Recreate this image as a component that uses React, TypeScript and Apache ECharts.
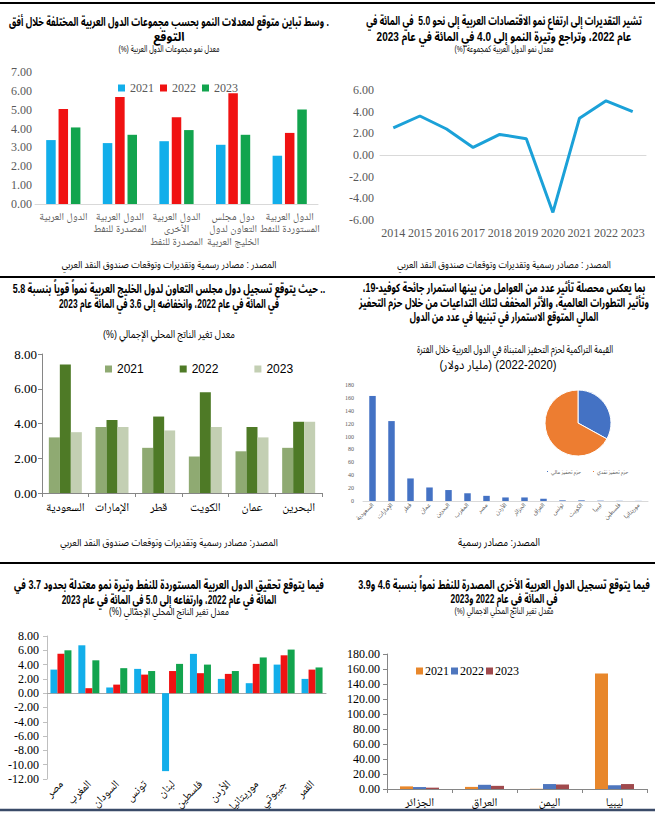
import React, { useEffect, useRef } from 'react';
import * as echarts from 'echarts';

// ---------- data ----------
const groupYears = ['2021', '2022', '2023'];

const groupCats = [
  'الدول العربية',
  'الدول العربية\nالمصدرة للنفط',
  'الدول العربية\nالأخرى\nالمصدرة للنفط',
  'دول مجلس\nالتعاون لدول\nالخليج العربية',
  'الدول العربية\nالمستوردة للنفط',
];
const group2021 = [3.39, 3.23, 3.33, 3.14, 2.56];
const group2022 = [5.04, 5.68, 4.6, 5.87, 3.77];
const group2023 = [4.06, 3.67, 3.92, 3.67, 5.01];

const arabYears = ['2014', '2015', '2016', '2017', '2018', '2019', '2020', '2021', '2022', '2023'];
const arabGrowth = [2.5, 3.6, 2.4, 0.7, 1.9, 1.5, -5.3, 3.4, 5.0, 4.0];

const gccCats = ['السعودية', 'الإمارات', 'قطر', 'الكويت', 'عمان', 'البحرين'];
const gcc2021 = [3.2, 3.8, 2.6, 2.1, 2.4, 2.6];
const gcc2022 = [7.4, 4.2, 4.4, 5.8, 3.8, 4.1];
const gcc2023 = [3.5, 3.8, 3.6, 3.8, 3.2, 4.1];

const stimCats = ['السعودية', 'الإمارات', 'قطر', 'عمان', 'البحرين', 'المغرب', 'مصر', 'الأردن', 'الجزائر', 'العراق', 'تونس', 'الكويت', 'ليبيا', 'فلسطين', 'موريتانيا'];
const stimValues = [163, 124, 35, 21, 17, 12, 8, 5.5, 5.5, 3.5, 1, 1, 0.5, 0.3, 0.2];
const stimTypes = ['حزم تحفيز مالي', 'حزم تحفيز نقدي'];
const stimShares = [33, 67];

const impCats = ['مصر', 'المغرب', 'السودان', 'تونس', 'لبنان', 'فلسطين', 'الأردن', 'موريتانيا', 'جيبوتي', 'القمر'];
const imp2021 = [3.3, 6.7, 0.8, 3.4, -10.9, 5.5, 2.0, 1.4, 4.0, 2.0];
const imp2022 = [5.5, 0.7, 1.2, 2.6, 3.1, 2.8, 2.7, 4.1, 5.3, 3.3];
const imp2023 = [6.0, 4.6, 3.5, 3.1, 4.1, 4.0, 3.1, 5.0, 6.1, 3.6];

const expCats = ['الجزائر', 'العراق', 'اليمن', 'ليبيا'];
const exp2021 = [3.5, 2.8, 0.3, 154];
const exp2022 = [2.6, 5.6, 6.6, 5.0];
const exp2023 = [1.8, 4.2, 6.0, 6.6];

// ---------- styles ----------
const serif = "'Liberation Serif', 'Noto Naskh Arabic', serif";
const sans = "Arial, 'Liberation Sans', 'Noto Sans Arabic', sans-serif";
const grey = '#595959';
const tripleA = ['#12AEEA', '#F01212', '#12A44E'];
const gccColors = ['#8FAA72', '#4E7A26', '#C3CFB3'];
const expColors = ['#E8872B', '#4E76BE', '#A04A4D'];

const fix2 = (v: number) => v.toFixed(2);
const L = 169;
const R = 504;
const RLM = '\u200F';

// [text, centerX, centerY, fontSize, bold, targetWidth]
const titleLines: [string, number, number, number, boolean, number][] = [
  ['. وسط تباين متوقع لمعدلات النمو بحسب مجموعات الدول العربية المختلفة خلال أفق', L, 21, 12, true, 320],
  ['التوقع', L, 37, 12, true, 0],
  ['معدل نمو مجموعات الدول العربية (%)', L, 49, 9.5, false, 95],
  ['المصدر : مصادر رسمية وتقديرات وتوقعات صندوق النقد العربي', L, 265, 10, false, 215],
  ['تشير التقديرات إلى ارتفاع نمو الاقتصادات العربية إلى نحو 5.0  في المائة في', R, 21, 12, true, 276],
  ['عام 2022، وتراجع وتيرة النمو إلى 4.0 في المائة في عام 2023', R, 37, 12, true, 255],
  ['معدل نمو الدول العربية كمجموعة (%)', R, 49, 9.5, false, 88],
  ['المصدر : مصادر رسمية وتقديرات وتوقعات صندوق النقد العربي', R, 265, 10, false, 214],
  ['.. حيث يتوقع تسجيل دول مجلس التعاون لدول الخليج العربية نمواً قوياً بنسبة 5.8', L, 288, 12, true, 313],
  ['في المائة في عام 2022، وانخفاضه إلى 3.6 في المائة عام 2023', L, 304, 12, true, 216],
  ['معدل تغير الناتج المحلي الإجمالي (%)', L, 334, 11, false, 132],
  ['المصدر: مصادر رسمية وتقديرات وتوقعات صندوق النقد العربي', L, 542, 10, false, 218],
  ['بما يعكس محصلة تأثير عدد من العوامل من بينها استمرار جائحة كوفيد-19،', R, 287, 12, true, 283],
  ['وتأثير التطورات العالمية، والأثر المخفف لتلك التداعيات من خلال حزم التحفيز', R, 302, 12, true, 290],
  ['المالي المتوقع الاستمرار في تبنيها في عدد من الدول', R, 317, 12, true, 173],
  ['القيمة التراكمية لحزم التحفيز المتبناة في الدول العربية خلال الفترة', 515, 349, 11, false, 186],
  ['(2022-2020) (مليار دولار)', 498, 364, 12, false, 117],
  ['المصدر: مصادر رسمية', 499, 542, 11, false, 82],
  ['فيما يتوقع تحقيق الدول العربية المستوردة للنفط وتيرة نمو معتدلة بحدود 3.7 في', L, 584, 12, true, 310],
  ['المائة في عام 2022، وارتفاعه إلى 5.0 في المائة في عام 2023', L, 600, 12, true, 213],
  ['معدل تغير الناتج المحلي الإجمالي (%)', L, 612, 10, false, 120],
  ['فيما يتوقع تسجيل الدول العربية الأخرى المصدرة للنفط نمواً بنسبة 4.6 و3.9', R, 584, 12, true, 292],
  ['في المائة في عام 2022 و2023', R, 599, 12, true, 100],
  ['معدل تغير الناتج المحلي الاجمالي (%)', R, 611, 9.5, false, 82],
];

function hline(y: number, w: number, color = '#000') {
  return { type: 'line', silent: true, shape: { x1: 0, y1: y, x2: 655, y2: y }, style: { stroke: color, lineWidth: w } };
}

function buildGraphics() {
  const ctx = document.createElement('canvas').getContext('2d') as CanvasRenderingContext2D;
  const out: any[] = [hline(3, 2), hline(277, 2), hline(563, 2), hline(810, 2.5, '#3A4A68')];
  titleLines.forEach(([raw, x, y, size, bold, target]) => {
    const text = RLM + raw + RLM;
    let s = 1;
    if (target > 0) {
      ctx.font = `${bold ? 'bold ' : ''}${size}px ${sans}`;
      const w = ctx.measureText(text).width;
      if (w > 0) s = Math.max(0.7, Math.min(1.15, target / w));
    }
    out.push({
      type: 'text',
      x,
      y,
      scaleX: s,
      silent: true,
      style: {
        text,
        fill: '#000',
        fontSize: size,
        fontWeight: bold ? 'bold' : 'normal',
        fontFamily: sans,
        align: 'center',
        verticalAlign: 'middle',
        textAlign: 'center',
        textVerticalAlign: 'middle',
      },
    });
  });
  return out;
}

const grids = [
  { left: 35, top: 72, width: 283, height: 132 },
  { left: 380, top: 90, width: 266, height: 130 },
  { left: 42, top: 354, width: 280, height: 139 },
  { left: 363, top: 385, width: 285, height: 116 },
  { left: 47, top: 636, width: 279, height: 167 },
  { left: 387, top: 654, width: 260, height: 135 },
];

const xAxes = [
  {
    type: 'category', gridIndex: 0, data: groupCats,
    axisLine: { lineStyle: { color: '#D9D9D9' } }, axisTick: { show: false },
    axisLabel: { interval: 0, color: grey, fontSize: 10.5, lineHeight: 12.5, fontFamily: serif, margin: 6 },
  },
  {
    type: 'category', gridIndex: 1, data: arabYears,
    axisLine: { onZero: true, lineStyle: { color: '#D9D9D9' } }, axisTick: { show: false },
    axisLabel: { interval: 0, color: grey, fontSize: 12, fontFamily: serif, margin: 7 },
  },
  {
    type: 'category', gridIndex: 2, data: gccCats,
    axisLine: { lineStyle: { color: '#868686' } }, axisTick: { show: true, length: 4, lineStyle: { color: '#868686' } },
    axisLabel: { interval: 0, color: '#000', fontSize: 12, fontFamily: serif, margin: 8 },
  },
  {
    type: 'category', gridIndex: 3, data: stimCats,
    axisLine: { lineStyle: { color: '#D9D9D9' } }, axisTick: { show: false },
    axisLabel: { interval: 0, rotate: 45, color: grey, fontSize: 6, fontFamily: sans, margin: 3 },
  },
  {
    type: 'category', gridIndex: 4, data: impCats,
    axisLine: { onZero: true, lineStyle: { color: '#A6A6A6' } }, axisTick: { show: false },
    axisLabel: { interval: 0, rotate: 45, color: '#000', fontSize: 11.5, fontFamily: serif, margin: 3 },
  },
  {
    type: 'category', gridIndex: 5, data: expCats,
    axisLine: { lineStyle: { color: '#868686' } }, axisTick: { show: true, length: 4, lineStyle: { color: '#868686' } },
    axisLabel: { interval: 0, color: '#000', fontSize: 12, fontFamily: serif, margin: 7 },
  },
];

const yAxes = [
  {
    type: 'value', gridIndex: 0, min: 0, max: 7, interval: 1,
    axisLine: { show: false }, axisTick: { show: false }, splitLine: { show: false },
    axisLabel: { formatter: fix2, color: grey, fontSize: 12, fontFamily: serif, margin: 3 },
  },
  {
    type: 'value', gridIndex: 1, min: -6, max: 6, interval: 2,
    axisLine: { show: false }, axisTick: { show: false }, splitLine: { show: false },
    axisLabel: { formatter: fix2, color: grey, fontSize: 12, fontFamily: serif, margin: 6 },
  },
  {
    type: 'value', gridIndex: 2, min: 0, max: 8, interval: 2,
    axisLine: { show: true, lineStyle: { color: '#868686' } }, axisTick: { show: true, length: 4, lineStyle: { color: '#868686' } },
    splitLine: { show: false },
    axisLabel: { formatter: fix2, color: '#000', fontSize: 13, fontFamily: serif, margin: 5 },
  },
  {
    type: 'value', gridIndex: 3, min: 0, max: 180, interval: 20,
    axisLine: { show: false }, axisTick: { show: false }, splitLine: { show: false },
    axisLabel: { color: grey, fontSize: 6, fontFamily: serif, margin: 9 },
  },
  {
    type: 'value', gridIndex: 4, min: -12, max: 8, interval: 2,
    axisLine: { show: true, lineStyle: { color: '#BFBFBF' } }, axisTick: { show: true, length: 4, lineStyle: { color: '#BFBFBF' } },
    splitLine: { show: false },
    axisLabel: { formatter: fix2, color: '#000', fontSize: 12, fontFamily: serif, margin: 8 },
  },
  {
    type: 'value', gridIndex: 5, min: 0, max: 180, interval: 20,
    axisLine: { show: true, lineStyle: { color: '#868686' } }, axisTick: { show: true, length: 4, lineStyle: { color: '#868686' } },
    splitLine: { show: false },
    axisLabel: { formatter: fix2, color: '#000', fontSize: 12, fontFamily: serif, margin: 7 },
  },
];

function bars(prefix: string, idx: number, sets: number[][], colors: string[], barWidth: number, barGap: string) {
  return sets.map((d, i) => ({
    type: 'bar',
    name: prefix + groupYears[i],
    xAxisIndex: idx,
    yAxisIndex: idx,
    data: d,
    barWidth,
    barGap,
    itemStyle: { color: colors[i] },
  }));
}

const strip = (n: string) => n.slice(1);

const series: any[] = [
  ...bars('a', 0, [group2021, group2022, group2023], tripleA, 9.5, '30%'),
  {
    type: 'line', name: 'arab', xAxisIndex: 1, yAxisIndex: 1, data: arabGrowth,
    symbol: 'none', lineStyle: { color: '#1BA1D8', width: 3 }, itemStyle: { color: '#1BA1D8' },
  },
  ...bars('c', 2, [gcc2021, gcc2022, gcc2023], gccColors, 11, '0%'),
  {
    type: 'bar', name: 'stim', xAxisIndex: 3, yAxisIndex: 3, data: stimValues,
    barWidth: 6.5, itemStyle: { color: '#4472C4' },
  },
  {
    type: 'pie', name: 'stimPie', center: [578, 423], radius: 33, startAngle: 90,
    label: { show: false }, labelLine: { show: false },
    itemStyle: { borderColor: '#fff', borderWidth: 1 },
    data: stimTypes.map((n, i) => ({ name: n, value: stimShares[i], itemStyle: { color: i === 0 ? '#4472C4' : '#ED7D31' } })),
  },
  ...bars('e', 4, [imp2021, imp2022, imp2023], tripleA, 7, '0%'),
  ...bars('f', 5, [exp2021, exp2022, exp2023], expColors, 13, '0%'),
];

const legends = [
  {
    data: groupYears.map((y) => 'a' + y), formatter: strip, selectedMode: false,
    left: 113, top: 77, itemWidth: 7, itemHeight: 7, itemGap: 6, icon: 'rect',
    textStyle: { color: grey, fontSize: 12, fontFamily: serif },
  },
  {
    data: groupYears.map((y) => 'c' + y), formatter: strip, selectedMode: false,
    left: 100, top: 358, itemWidth: 7, itemHeight: 7, itemGap: 36, icon: 'rect',
    textStyle: { color: '#000', fontSize: 12, fontFamily: sans },
  },
  {
    data: stimTypes, selectedMode: false,
    left: 540, top: 464, itemWidth: 3, itemHeight: 3, itemGap: 10, icon: 'rect',
    textStyle: { color: grey, fontSize: 5, fontFamily: sans, padding: [0, 0, 0, -3] },
  },
  {
    data: groupYears.map((y) => 'e' + y), formatter: strip, selectedMode: false,
    left: 108, top: 811, itemWidth: 7, itemHeight: 7, itemGap: 38, icon: 'rect',
    textStyle: { color: '#000', fontSize: 12, fontFamily: serif },
  },
  {
    data: groupYears.map((y) => 'f' + y), formatter: strip, selectedMode: false,
    left: 411, top: 660, itemWidth: 7, itemHeight: 7, itemGap: 2, icon: 'rect',
    textStyle: { color: '#000', fontSize: 12, fontFamily: serif, padding: [0, 0, 0, -3] },
  },
];

export default function App() {
  const ref = useRef<HTMLDivElement>(null);
  useEffect(() => {
    const chart = echarts.init(ref.current as HTMLDivElement, null, { renderer: 'svg' });
    const option: any = {
      animation: false,
      backgroundColor: '#fff',
      textStyle: { fontFamily: sans },
      grid: grids,
      xAxis: xAxes,
      yAxis: yAxes,
      legend: legends,
      series,
      graphic: buildGraphics(),
    };
    chart.setOption(option);
    return () => chart.dispose();
  }, []);
  return (
    <div
      ref={ref}
      style={{ position: 'absolute', left: 0, top: 0, width: 655, height: 814, background: '#fff', overflow: 'hidden' }}
    />
  );
}
